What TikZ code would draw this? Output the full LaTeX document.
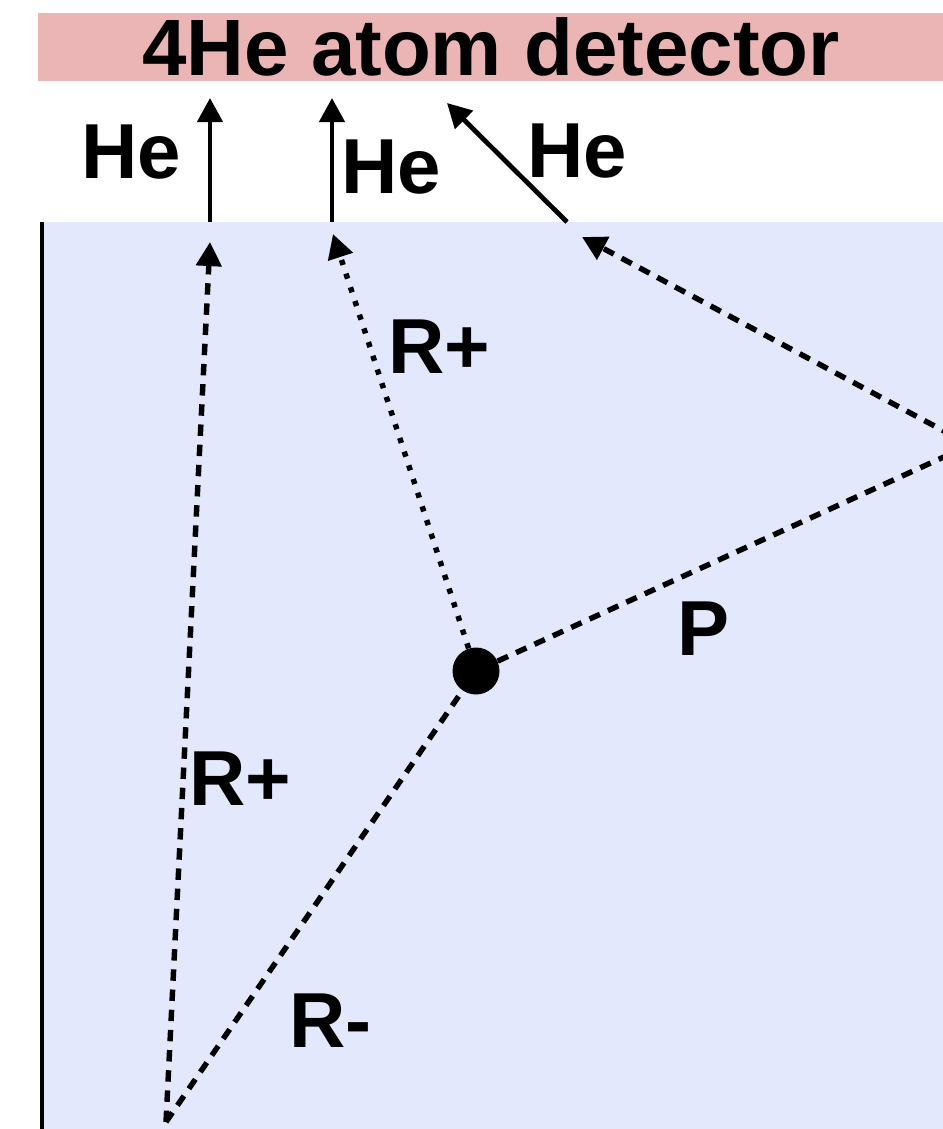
\documentclass[tikz,border=0pt]{standalone}
\usepackage{fontspec}
\setmainfont{Liberation Sans}
\usepackage{xcolor}
\usetikzlibrary{arrows.meta}
\definecolor{detpink}{RGB}{235,181,181}
\definecolor{cellblue}{RGB}{228,232,252}

\begin{document}
\begin{tikzpicture}[x=0.02cm,y=-0.02cm,
  lbl/.style={anchor=base west,inner sep=0pt,font=\fontsize{44.4}{50}\selectfont\bfseries},
  path dash/.style={line width=3.1pt,dash pattern=on 6.5pt off 5pt},
  path dot/.style={line width=3.1pt,dash pattern=on 3pt off 5.2pt},
  tip/.style={-{Triangle[length=13.7pt,width=14.2pt]}},
  atom/.style={line width=2.7pt,-{Triangle[length=13.7pt,width=14.2pt]}}]
  \useasboundingbox (0,0) rectangle (943,1129);
  \clip (0,0) rectangle (943,1129);
  \fill[detpink] (38,13) rectangle (943,81);
  \fill[cellblue] (40,222) rectangle (943,1129);
  \draw[line width=2.4pt] (42,222) -- (42,1129);
  \node[lbl,anchor=base,font=\fontsize{45.5}{50}\selectfont\bfseries] (title) at (491,75) {4He atom detector};

  % points in the cell
  \coordinate (src) at (166,1122);
  \coordinate (refl) at (970,445);
  \coordinate (d1) at (210,242);
  \coordinate (d2) at (333,234);
  \coordinate (d3) at (582,237);
  \node[circle,fill=black,inner sep=0pt,minimum size=0.94cm] (core) at (476,671) {};

  \draw[path dash,tip] (src) -- (d1);
  \draw[path dash] (src) -- (core);
  \draw[path dot,tip] (core) -- (d2);
  \draw[path dash] (core) -- (refl);
  \draw[path dash,tip] (refl) -- (d3);

  % atoms leaving the surface
  \coordinate (s1) at (210,222);
  \coordinate (s2) at (332,222);
  \coordinate (s3) at (567,222);
  \coordinate (t1) at (210,98);
  \coordinate (t2) at (332,98);
  \coordinate (t3) at (447,103);
  \draw[atom] (s1) -- (t1);
  \draw[atom] (s2) -- (t2);
  \draw[atom] (s3) -- (t3);

  \node[lbl] (he1) at (81,178) {He};
  \node[lbl] (he2) at (341,193) {He};
  \node[lbl] (he3) at (527,177) {He};
  \node[lbl] (rp1) at (388,373) {R+};
  \node[lbl] (rp2) at (189,805) {R+};
  \node[lbl] (rm) at (289,1047) {R-};
  \node[lbl] (pl) at (677,655) {P};
\end{tikzpicture}
\end{document}
